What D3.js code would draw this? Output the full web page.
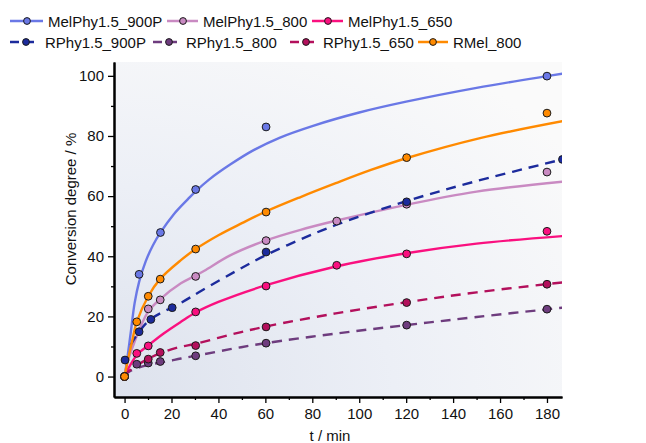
<!DOCTYPE html>
<html>
<head>
<meta charset="utf-8">
<script src="https://cdn.jsdelivr.net/npm/d3@7"></script>
<style>
  body { margin: 0; background: #fff; }
  text { font-family: "Liberation Sans", Arial, sans-serif; fill: #111; }
</style>
</head>
<body>
<svg id="chart" width="646" height="443"></svg>
<script>
// measured points
var t900P = [0, 6.2, 15.3, 30.3, 60.3, 180];
var v900P = [0, 34.0, 47.9, 62.2, 83.0, 99.9];
var t800 = [0, 10.1, 15.2, 30.3, 60.3, 90.4, 120.2, 180];
var v800 = [0, 22.5, 25.5, 33.3, 45.2, 51.7, 57.3, 68.0];
var t650 = [0, 5.2, 10.1, 30.3, 60.3, 90.4, 120.2, 180];
var v650 = [0, 7.7, 10.2, 21.5, 30.1, 37.0, 40.8, 48.3];
var tR900P = [0.2, 6.2, 11.2, 20.3, 60.3, 120.2, 186.6];
var vR900P = [5.5, 14.9, 19.0, 22.9, 41.4, 58.1, 72.2];
var tR800 = [0, 5.2, 10.1, 15.2, 30.3, 60.3, 120.2, 180];
var vR800 = [0, 4.1, 4.5, 5.0, 6.9, 11.1, 17.1, 22.4];
var tR650 = [0, 10.1, 15.2, 30.3, 60.3, 120.2, 180];
var vR650 = [0, 5.8, 8.0, 10.3, 16.5, 24.6, 30.7];
var tMel = [0, 5.2, 10.1, 15.2, 30.3, 60.3, 120.2, 180];
var vMel = [0, 18.2, 26.7, 32.4, 42.4, 54.7, 72.8, 87.6];

// fitted curves
var f900Pt = [0, 1, 2.6, 4.3, 6.2, 9, 12, 15.4, 21, 27, 30.3, 36, 45, 55, 66, 80, 100, 120, 150, 180, 186.5];
var f900Pv = [0, 5, 14.4, 24.5, 31.5, 38.3, 43.5, 48, 54, 59, 61.6, 65.5, 70.5, 75.3, 79.4, 83.3, 87.8, 91.4, 96, 99.9, 100.7];
var f800t = [0, 1, 4, 10, 15, 24, 30, 34, 45, 60, 75, 90, 120, 150, 186.5];
var f800v = [0, 4, 11, 21.5, 25.6, 31, 33.5, 35.2, 40.3, 45.2, 48.8, 51.8, 57.1, 61.5, 64.8];
var f650t = [0, 1, 5.2, 10.2, 16.8, 24, 30.3, 40, 60, 90, 120, 150, 186.5];
var f650v = [0, 1.8, 7.1, 10.4, 14.4, 18.2, 21.3, 24.8, 30.3, 36.6, 41, 44.2, 46.7];
var fR900Pt = [2.6, 6.2, 11.2, 24, 33.1, 47.8, 60, 75, 90, 120, 150, 186.5];
var fR900Pv = [10.5, 14.9, 19.1, 24.5, 28.7, 35.2, 40.3, 45.6, 50.4, 58.3, 65, 72.2];
var fR800t = [0, 1.9, 9.7, 18.2, 24, 30.3, 45, 60, 90, 120, 150, 186.5];
var fR800v = [0, 1.6, 3.8, 5.0, 6.0, 6.9, 9.1, 11.1, 14.3, 17.1, 19.8, 22.9];
var fR650t = [0, 0.8, 9.3, 18.2, 24, 30.3, 45, 60, 90, 120, 150, 186.5];
var fR650v = [0, 1.1, 5.6, 8.6, 9.9, 10.9, 13.9, 16.6, 21, 24.7, 28, 31.3];
var fMelt = [0, 1, 3.3, 5.2, 10.1, 15.1, 24, 30.3, 40, 50, 60, 75, 90, 105, 120, 151.5, 186.5];
var fMelv = [0, 4, 12.1, 18.2, 26.7, 32.4, 38.7, 42.4, 47, 51, 54.8, 59.7, 64.3, 68.7, 72.6, 79.3, 84.9];

var names = ["MelPhy1.5_900P", "MelPhy1.5_800", "MelPhy1.5_650", "RPhy1.5_900P", "RPhy1.5_800", "RPhy1.5_650", "RMel_800"];
var colors = ["#6a78e6", "#c98ac2", "#fa107f", "#1c2b9c", "#6e3c7e", "#b3105c", "#ff8a00"];
var dashed = [false, false, false, true, true, true, false];

var xTicks = [0, 20, 40, 60, 80, 100, 120, 140, 160, 180];
var xMinor = [10, 30, 50, 70, 90, 110, 130, 150, 170];
var yTicks = [0, 20, 40, 60, 80, 100];
var yMinor = [10, 30, 50, 70, 90];

(function chart() {
    var pts = [[t900P, v900P], [t800, v800], [t650, v650], [tR900P, vR900P], [tR800, vR800], [tR650, vR650], [tMel, vMel]];
    var fits = [[f900Pt, f900Pv], [f800t, f800v], [f650t, f650v], [fR900Pt, fR900Pv], [fR800t, fR800v], [fR650t, fR650v], [fMelt, fMelv]];

    function zip(a) {
        return a[0].map(function (t, i) { return [t, a[1][i]]; });
    }

    var svg = d3.select("#chart");
    var pLeft = 114, pRight = 562, pTop = 62, pBottom = 397;

    var x = d3.scaleLinear().domain([-4.5, 186.4]).range([pLeft, pRight]);
    var y = d3.scaleLinear().domain([-6.8, 104.6]).range([pBottom, pTop]);

    var defs = svg.append("defs");
    var grad = defs.append("radialGradient")
        .attr("id", "bg").attr("cx", 0).attr("cy", 1).attr("r", 1.25)
        .attr("gradientUnits", "objectBoundingBox");
    grad.append("stop").attr("offset", 0).attr("stop-color", "#dde2ed");
    grad.append("stop").attr("offset", 0.5).attr("stop-color", "#eceff6");
    grad.append("stop").attr("offset", 1).attr("stop-color", "#fafafa");

    defs.append("clipPath").attr("id", "clip")
        .append("rect").attr("x", pLeft).attr("y", pTop)
        .attr("width", pRight - pLeft).attr("height", pBottom - pTop);

    svg.append("rect")
        .attr("x", pLeft).attr("y", pTop)
        .attr("width", pRight - pLeft).attr("height", pBottom - pTop)
        .attr("fill", "url(#bg)");

    var plot = svg.append("g").attr("clip-path", "url(#clip)");

    var line = d3.line()
        .x(function (d) { return x(d[0]); })
        .y(function (d) { return y(d[1]); })
        .curve(d3.curveCatmullRom.alpha(0.5));

    fits.forEach(function (f, i) {
        plot.append("path")
            .attr("d", line(zip(f)))
            .attr("fill", "none")
            .attr("stroke", colors[i])
            .attr("stroke-width", 2.4)
            .attr("stroke-dasharray", dashed[i] ? "10,7" : null);
    });

    pts.forEach(function (p, i) {
        plot.selectAll(null)
            .data(zip(p))
            .enter().append("circle")
            .attr("cx", function (d) { return x(d[0]); })
            .attr("cy", function (d) { return y(d[1]); })
            .attr("r", 3.9)
            .attr("fill", colors[i])
            .attr("stroke", "#1a1a1a")
            .attr("stroke-width", 1);
    });

    // axes
    svg.append("g")
        .attr("transform", "translate(0," + pBottom + ")")
        .call(d3.axisBottom(x).tickValues(xTicks).tickSize(6).tickPadding(5).tickSizeOuter(0));
    svg.append("g")
        .attr("transform", "translate(0," + pBottom + ")")
        .call(d3.axisBottom(x).tickValues(xMinor).tickSize(3).tickFormat("").tickSizeOuter(0));
    svg.append("g")
        .attr("transform", "translate(" + pLeft + ",0)")
        .call(d3.axisLeft(y).tickValues(yTicks).tickSize(6).tickPadding(4).tickSizeOuter(0));
    svg.append("g")
        .attr("transform", "translate(" + pLeft + ",0)")
        .call(d3.axisLeft(y).tickValues(yMinor).tickSize(3).tickFormat("").tickSizeOuter(0));

    svg.selectAll(".domain").attr("stroke", "#000").attr("stroke-width", 2);
    svg.selectAll(".tick line").attr("stroke", "#000").attr("stroke-width", 1.3);
    svg.selectAll(".tick text")
        .style("font-family", "Liberation Sans, Arial, sans-serif")
        .style("font-size", "15px")
        .attr("fill", "#111");

    svg.append("text")
        .attr("x", (pLeft + pRight) / 2 - 8).attr("y", 441)
        .attr("text-anchor", "middle")
        .style("font-size", "15px")
        .text("t / min");

    svg.append("text")
        .attr("transform", "translate(76,209) rotate(-90)")
        .attr("text-anchor", "middle")
        .style("font-size", "15px")
        .text("Conversion degree / %");

    // legend
    var legendPos = [
        [10, 43, 27, 21], [167, 198, 183, 21], [312, 343, 328, 21],
        [10, 40, 26, 42], [153, 181, 169, 42], [290, 318, 306, 42], [418, 448, 433, 42]
    ];
    names.forEach(function (n, i) {
        var p = legendPos[i];
        var g = svg.append("g");
        g.append("line")
            .attr("x1", p[0]).attr("x2", p[1]).attr("y1", p[3]).attr("y2", p[3])
            .attr("stroke", colors[i]).attr("stroke-width", 2.5)
            .attr("stroke-dasharray", dashed[i] ? "9,6" : null);
        g.append("circle")
            .attr("cx", p[2]).attr("cy", p[3]).attr("r", 3.4)
            .attr("fill", colors[i]).attr("stroke", "#1a1a1a").attr("stroke-width", 1);
        g.append("text")
            .attr("x", p[1] + 5).attr("y", p[3] + 5.5)
            .style("font-size", "15px")
            .text(n);
    });
}());
</script>
</body>
</html>
